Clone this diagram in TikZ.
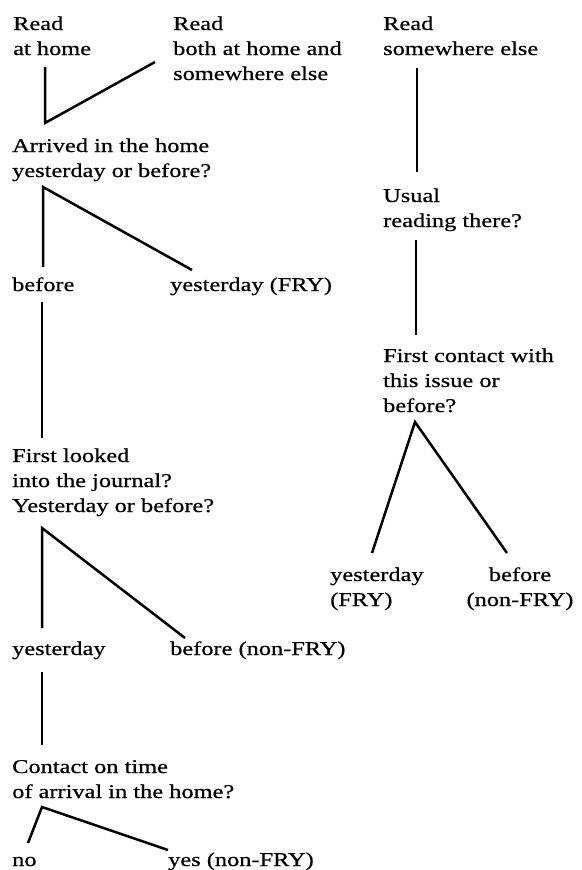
\documentclass[tikz,border=0pt]{standalone}
\usepackage{fontspec}
\setmainfont{Liberation Serif}[FakeStretch=1.25,FakeBold=0.6]
\newcommand{\lns}[1]{\begin{tabular}[t]{@{}l@{}}#1\end{tabular}}
\newcommand{\clns}[1]{\begin{tabular}[t]{@{}c@{}}#1\end{tabular}}
\tikzset{
  lbl/.style={anchor=base west, inner sep=0pt, font=\fontsize{19.5}{25}\selectfont},
  clbl/.style={anchor=base, inner sep=0pt, font=\fontsize{19.5}{25}\selectfont},
  link/.style={line width=2.5pt, line join=miter, line cap=butt}
}
\begin{document}
\begin{tikzpicture}[x=1pt,y=-1pt]
\fill[white] (0,0) rectangle (581,870);
\useasboundingbox (0,0) rectangle (581,870);

% texts
\node[lbl] (rh) at (13,30) {\lns{Read\\at home}};
\node[lbl] (rb) at (173,30) {\lns{Read\\both at home and\\somewhere else}};
\node[lbl] (rs) at (383,30) {\lns{Read\\somewhere else}};
\node[lbl] (arr) at (12,152) {\lns{Arrived in the home\\yesterday or before?}};
\node[lbl] (bef1) at (12,291) {before};
\node[lbl] (yfry1) at (170,291) {yesterday (FRY)};
\node[lbl] (usual) at (383,202) {\lns{Usual\\reading there?}};
\node[lbl] (first) at (383,362) {\lns{First contact with\\this issue or\\before?}};
\node[lbl] (look) at (12,462) {\lns{First looked\\into the journal?\\Yesterday or before?}};
\node[lbl] (yfry2) at (330,581) {\lns{yesterday\\(FRY)}};
\node[clbl] (bnf2) at (520,581) {\clns{before\\(non-FRY)}};
\node[lbl] (yest) at (12,655) {yesterday};
\node[lbl] (bnf1) at (170,655) {before (non-FRY)};
\node[lbl] (cont) at (12,773) {\lns{Contact on time\\of arrival in the home?}};
\node[lbl] (no) at (12,866) {no};
\node[lbl] (yes) at (168,866) {yes (non-FRY)};

% connector points
\coordinate (a1) at (45,67);
\coordinate (a2) at (45,123);
\coordinate (a3) at (155,62);
\coordinate (b1) at (417,68);
\coordinate (b2) at (417,172);
\coordinate (c0) at (43,187);
\coordinate (c1) at (43,267);
\coordinate (c2) at (192,270);
\coordinate (d1) at (42,302);
\coordinate (d2) at (42,438);
\coordinate (e1) at (416,240);
\coordinate (e2) at (416,335);
\coordinate (f0) at (415,422);
\coordinate (f1) at (372,553);
\coordinate (f2) at (507,553);
\coordinate (g0) at (42,528);
\coordinate (g1) at (42,628);
\coordinate (g2) at (185,638);
\coordinate (h1) at (42,672);
\coordinate (h2) at (42,745);
\coordinate (i0) at (42,807);
\coordinate (i1) at (28,843);
\coordinate (i2) at (168,850);

\draw[link] (a1) -- (a2) -- (a3);
\draw[link] (b1) -- (b2);
\draw[link] (c1) -- (c0) -- (c2);
\draw[link] (d1) -- (d2);
\draw[link] (e1) -- (e2);
\draw[link] (f1) -- (f0) -- (f2);
\draw[link] (g1) -- (g0) -- (g2);
\draw[link] (h1) -- (h2);
\draw[link] (i1) -- (i0) -- (i2);
\end{tikzpicture}
\end{document}
